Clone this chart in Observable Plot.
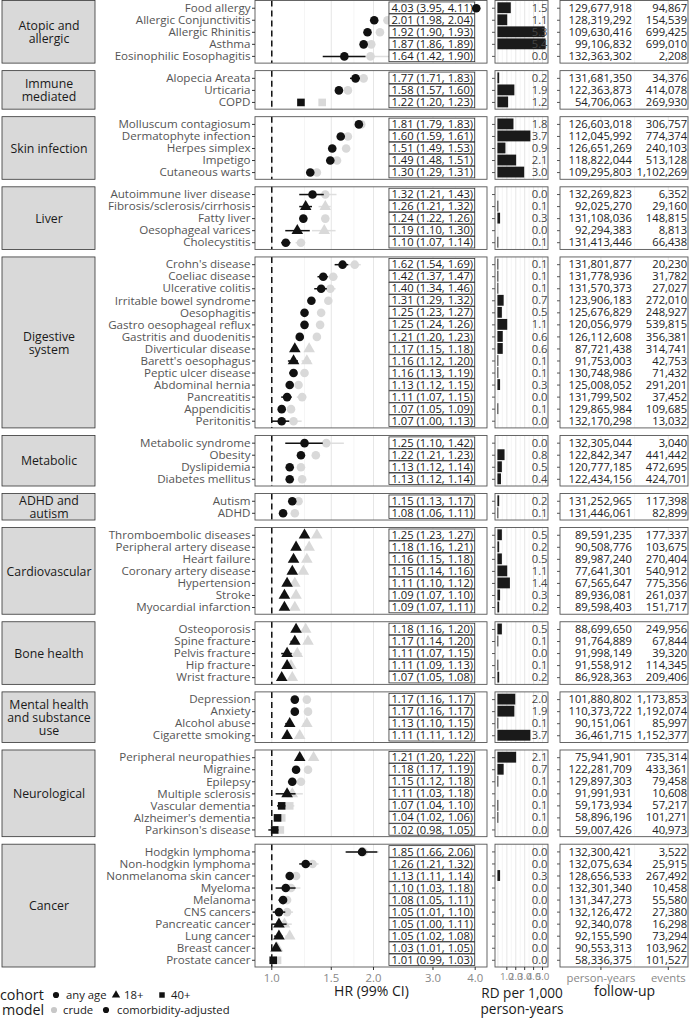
<!DOCTYPE html>
<html><head><meta charset="utf-8">
<script src="https://cdn.jsdelivr.net/npm/d3@7"></script>
<script src="https://cdn.jsdelivr.net/npm/@observablehq/plot@0.6"></script>
<style>
body{margin:0;background:#fff;font-family:"Open Sans",sans-serif;}
#wrap{position:relative;width:690px;height:1019px;overflow:hidden;background:#fff;}
#wrap svg{position:absolute;top:0;overflow:visible;}
.lg{position:absolute;white-space:nowrap;color:#1a1a1a;}
</style></head><body><div id="wrap"></div>
<script>
const groupNames = ["Atopic and\nallergic","Immune\nmediated","Skin infection","Liver","Digestive\nsystem","Metabolic","ADHD and\nautism","Cardiovascular","Bone health","Mental health\nand substance\nuse","Neurological","Cancer"];
const groupSizes = [5,3,5,5,14,4,2,7,5,4,7,10];
const conditions = ["Food allergy","Allergic Conjunctivitis","Allergic Rhinitis","Asthma","Eosinophilic Eosophagitis",
"Alopecia Areata","Urticaria","COPD",
"Molluscum contagiosum","Dermatophyte infection","Herpes simplex","Impetigo","Cutaneous warts",
"Autoimmune liver disease","Fibrosis/sclerosis/cirrhosis","Fatty liver","Oesophageal varices","Cholecystitis",
"Crohn's disease","Coeliac disease","Ulcerative colitis","Irritable bowel syndrome","Oesophagitis","Gastro oesophageal reflux","Gastritis and duodenitis","Diverticular disease","Barett's oesophagus","Peptic ulcer disease","Abdominal hernia","Pancreatitis","Appendicitis","Peritonitis",
"Metabolic syndrome","Obesity","Dyslipidemia","Diabetes mellitus",
"Autism","ADHD",
"Thromboembolic diseases","Peripheral artery disease","Heart failure","Coronary artery disease","Hypertension","Stroke","Myocardial infarction",
"Osteoporosis","Spine fracture","Pelvis fracture","Hip fracture","Wrist fracture",
"Depression","Anxiety","Alcohol abuse","Cigarette smoking",
"Peripheral neuropathies","Migraine","Epilepsy","Multiple sclerosis","Vascular dementia","Alzheimer's dementia","Parkinson's disease",
"Hodgkin lymphoma","Non-hodgkin lymphoma","Nonmelanoma skin cancer","Myeloma","Melanoma","CNS cancers","Pancreatic cancer","Lung cancer","Breast cancer","Prostate cancer"];
const cohort = ["any age","any age","any age","any age","any age",
"any age","any age","40+",
"any age","any age","any age","any age","any age",
"any age","18+","any age","18+","any age",
"any age","any age","any age","any age","any age","any age","any age","18+","18+","any age","any age","any age","any age","any age",
"any age","any age","any age","any age",
"any age","any age",
"18+","18+","18+","18+","18+","18+","18+",
"18+","18+","18+","18+","18+",
"any age","any age","18+","18+",
"18+","any age","any age","18+","40+","40+","40+",
"any age","any age","any age","any age","any age","any age","18+","18+","18+","40+"];
const hrAdj = [4.03,2.01,1.92,1.87,1.64, 1.77,1.58,1.22, 1.81,1.60,1.51,1.49,1.30, 1.32,1.26,1.24,1.19,1.10,
1.62,1.42,1.40,1.31,1.25,1.25,1.21,1.17,1.16,1.16,1.13,1.11,1.07,1.07, 1.25,1.22,1.13,1.13, 1.15,1.08,
1.25,1.18,1.16,1.15,1.11,1.09,1.09, 1.18,1.17,1.11,1.11,1.07, 1.17,1.17,1.13,1.11,
1.21,1.18,1.15,1.11,1.07,1.04,1.02, 1.85,1.26,1.13,1.10,1.08,1.05,1.05,1.05,1.03,1.01];
const hrLo = [3.95,1.98,1.90,1.86,1.42, 1.71,1.57,1.20, 1.79,1.59,1.49,1.48,1.29, 1.21,1.21,1.22,1.10,1.07,
1.54,1.37,1.34,1.29,1.23,1.24,1.20,1.15,1.12,1.13,1.12,1.07,1.05,1.00, 1.10,1.21,1.12,1.12, 1.13,1.06,
1.23,1.16,1.15,1.14,1.10,1.07,1.07, 1.16,1.14,1.07,1.09,1.05, 1.16,1.16,1.10,1.11,
1.20,1.17,1.12,1.03,1.04,1.02,0.98, 1.66,1.21,1.11,1.03,1.05,1.01,1.00,1.02,1.01,0.99];
const hrHi = [4.11,2.04,1.93,1.89,1.90, 1.83,1.60,1.23, 1.83,1.61,1.53,1.51,1.31, 1.43,1.32,1.26,1.30,1.14,
1.69,1.47,1.46,1.32,1.27,1.26,1.23,1.18,1.20,1.19,1.15,1.15,1.09,1.13, 1.42,1.23,1.14,1.14, 1.17,1.11,
1.27,1.21,1.18,1.16,1.12,1.10,1.11, 1.20,1.20,1.15,1.13,1.08, 1.17,1.17,1.15,1.12,
1.22,1.19,1.18,1.18,1.10,1.06,1.05, 2.06,1.32,1.14,1.18,1.11,1.10,1.11,1.08,1.05,1.03];
const hrCrude = [3.50,2.20,2.09,1.97,1.96, 1.87,1.68,1.41, 1.84,1.68,1.66,1.56,1.36, 1.44,1.44,1.44,1.43,1.22,
1.76,1.52,1.49,1.47,1.40,1.39,1.36,1.29,1.27,1.25,1.20,1.23,1.14,1.16, 1.45,1.35,1.22,1.23, 1.20,1.17,
1.36,1.29,1.27,1.24,1.17,1.18,1.17, 1.26,1.28,1.19,1.14,1.15, 1.27,1.28,1.27,1.21,
1.33,1.28,1.22,1.15,1.13,1.07,1.06, 1.87,1.32,1.18,1.14,1.11,1.11,1.09,1.13,1.04,1.04];
const crudeLo = [3.42,2.17,2.07,1.95,1.70, 1.81,1.66,1.39, 1.82,1.67,1.64,1.55,1.35, 1.33,1.38,1.42,1.32,1.18,
1.69,1.47,1.43,1.45,1.38,1.38,1.34,1.27,1.23,1.22,1.19,1.19,1.12,1.10, 1.28,1.34,1.21,1.22, 1.18,1.15,
1.34,1.26,1.26,1.23,1.16,1.16,1.15, 1.24,1.25,1.15,1.12,1.13, 1.26,1.27,1.24,1.20,
1.32,1.27,1.19,1.07,1.09,1.05,1.02, 1.68,1.26,1.16,1.06,1.08,1.06,1.03,1.10,1.02,1.02];
const crudeHi = [3.58,2.23,2.11,1.99,2.25, 1.93,1.70,1.43, 1.86,1.69,1.68,1.58,1.37, 1.56,1.50,1.46,1.55,1.26,
1.84,1.57,1.55,1.49,1.42,1.40,1.38,1.31,1.31,1.28,1.22,1.27,1.16,1.23, 1.64,1.36,1.23,1.24, 1.22,1.19,
1.38,1.32,1.29,1.25,1.18,1.19,1.19, 1.28,1.31,1.23,1.16,1.16, 1.28,1.29,1.30,1.22,
1.34,1.29,1.25,1.24,1.17,1.09,1.09, 2.08,1.38,1.20,1.22,1.14,1.16,1.15,1.16,1.06,1.06];
const rdPer1000 = [1.5,1.1,5.3,5.4,0.0, 0.2,1.9,1.2, 1.8,3.7,0.9,2.1,3.0, 0.0,0.1,0.3,0.0,0.1,
0.1,0.1,0.1,0.7,0.5,1.1,0.6,0.6,0.1,0.1,0.3,0.0,0.1,0.0, 0.0,0.8,0.5,0.4, 0.2,0.1,
0.5,0.2,0.5,1.1,1.4,0.3,0.2, 0.5,0.1,0.0,0.1,0.2, 2.0,1.9,0.1,3.7,
2.1,0.7,0.1,0.0,0.1,0.1,0.0, 0.0,0.0,0.3,0.0,0.0,0.0,0.0,0.0,0.0,0.0];
const personYears = [129677918,128319292,109630416,99106832,132363302, 131681350,122363873,54706063,
126603018,112045992,126651269,118822044,109295803, 132269823,92025270,131108036,92294383,131413446,
131801877,131778936,131570373,123906183,125676829,120056979,126112608,87721438,91753003,130748986,125008052,131799502,129865984,132170298,
132305044,122842347,120777185,122434156, 131252965,131446061,
89591235,90508776,89987240,77641301,67565647,89936081,89598403,
88699650,91764889,91998149,91558912,86928363, 101880802,110373722,90151061,36461715,
75941901,122281709,129897303,91991931,59173934,58896196,59007426,
132300421,132075634,128656533,132301340,131347273,132126472,92340078,92155590,90553313,58336375];
const events = [94867,154539,699425,699010,2208, 34376,414078,269930, 306757,774374,240103,513128,1102269,
6352,29160,148815,8813,66438,
20230,31782,27027,272010,248927,539815,356381,314741,42753,71432,291201,37452,109685,13032,
3040,441442,472695,424701, 117398,82899,
177337,103675,270404,540912,775356,261037,151717,
249956,67844,39320,114345,209406, 1173853,1192074,85997,1152377,
735314,433361,79458,10608,57217,101271,40973,
3522,25915,267492,10458,55580,27380,16298,73294,103962,101527];
const cohorts = ["any age","18+","40+"];
const hrTicks = [1,1.5,2,3,4];
const hrMinor = [1.25,1.75,2.5,3.5];
const rdTicks = [1,2,3,4,5];
const fuCols = ["person-years","events"];

// ---- build tables ----
const rows = [], panels = [];
let pos = 0, idx = 0;
groupNames.forEach((g, gi) => {
  const n = groupSizes[gi], start = pos;
  for (let k = 0; k < n; k++, idx++) rows.push({
    name: conditions[idx], pos: start + k, cohort: cohort[idx],
    hr: hrAdj[idx], lo: hrLo[idx], hi: hrHi[idx],
    crude: hrCrude[idx], cLo: crudeLo[idx], cHi: crudeHi[idx],
    rd: rdPer1000[idx], py: personYears[idx], ev: events[idx],
    label: `${hrAdj[idx].toFixed(2)} (${hrLo[idx].toFixed(2)}, ${hrHi[idx].toFixed(2)})`
  });
  panels.push({group: g, y1: start - 0.6, y2: start + n - 1 + 0.6});
  pos = start + n + 0.825;
});
const nameByPos = new Map(rows.map(d => [d.pos, d.name]));
const positions = rows.map(d => d.pos);
const yScale = {domain: [panels[0].y1, panels[panels.length-1].y2], reverse: true, axis: null};
const H = 1019, MT = 0.5, MB = 52;
const FONT = "'Open Sans', sans-serif";
const gridFor = (vals) => panels.flatMap(p => vals.map(x => ({x, y1: p.y1, y2: p.y2})));
const fmt = d3.format(",");
const wrap = document.getElementById("wrap");
function place(el, left) { el.style.left = left + "px"; wrap.appendChild(el); }
const baseStyle = {fontFamily: FONT, overflow: "visible", background: "transparent"};

// ---- strips ----
place(Plot.plot({
  width: 100, height: H, marginLeft: 2, marginRight: 5, marginTop: MT, marginBottom: MB,
  x: {domain: [0, 1], axis: null}, y: yScale, style: baseStyle,
  marks: [
    Plot.rect(panels, {x1: 0, x2: 1, y1: "y1", y2: "y2", fill: "#d9d9d9", stroke: "#333", strokeWidth: 0.8}),
    Plot.text(panels, {x: 0.5, y: d => (d.y1 + d.y2) / 2, text: "group", fontSize: 12.3, fill: "#1a1a1a", lineHeight: 1.05})
  ]
}), 0);

// ---- HR panel ----
const hrDom = [0.895, 4.35];
place(Plot.plot({
  width: 393, height: H, marginLeft: 158, marginRight: 3, marginTop: MT, marginBottom: MB,
  x: {type: "log", domain: hrDom, axis: null}, y: yScale, style: baseStyle,
  symbol: {domain: cohorts, range: ["circle", "triangle", "square"]},
  marks: [
    Plot.rect(panels, {x1: hrDom[0], x2: hrDom[1], y1: "y1", y2: "y2", fill: "white"}),
    Plot.ruleX(gridFor(hrMinor), {x: "x", y1: "y1", y2: "y2", stroke: "#f0f0f0", strokeWidth: 0.7}),
    Plot.ruleX(gridFor(hrTicks), {x: "x", y1: "y1", y2: "y2", stroke: "#e6e6e6", strokeWidth: 1}),
    Plot.ruleX(panels, {x: 1, y1: "y1", y2: "y2", stroke: "#111", strokeWidth: 1.5, strokeDasharray: "6,4"}),
    Plot.ruleY(rows, {y: "pos", x1: "cLo", x2: "cHi", stroke: "#dedede", strokeWidth: 1.5}),
    Plot.dot(rows, {x: "crude", y: "pos", symbol: "cohort", fill: "#d9d9d9", r: 4.3}),
    Plot.rect(rows, {x1: 2.23, x2: 4.0, y1: d => d.pos - 0.48, y2: d => d.pos + 0.48, fill: "white", stroke: "#333", strokeWidth: 0.8}),
    Plot.text(rows, {x: 2.985, y: "pos", text: "label", fill: "#1a1a1a", fontSize: 11.2}),
    Plot.ruleY(rows, {y: "pos", x1: "lo", x2: "hi", stroke: "#111", strokeWidth: 1.5}),
    Plot.dot(rows, {x: "hr", y: "pos", symbol: "cohort", fill: "#111", r: 4.3}),
    Plot.rect(panels, {x1: hrDom[0], x2: hrDom[1], y1: "y1", y2: "y2", fill: "none", stroke: "#555", strokeWidth: 0.9}),
    Plot.axisY({ticks: positions, tickFormat: d => nameByPos.get(d), tickSize: 3, tickPadding: 2, fontSize: 11.6, stroke: "#333", fill: "#555"}),
    Plot.axisX({ticks: hrTicks, tickFormat: d3.format(".1f"), tickSize: 3, tickPadding: 3, fontSize: 11.3, stroke: "#333", fill: "#888", label: null}),
    Plot.text(["HR (99% CI)"], {frameAnchor: "bottom", dy: 28, text: d => d, fontSize: 14, fill: "#1a1a1a"})
  ]
}), 97);

// ---- RD panel ----
const rdDom = [-0.27, 5.67];
const rdMinor = [0.5, 1.5, 2.5, 3.5, 4.5, 5.5], rdMajor = [0, 1, 2, 3, 4, 5];
place(Plot.plot({
  width: 63, height: H, marginLeft: 5, marginRight: 5, marginTop: MT, marginBottom: MB,
  x: {domain: rdDom, axis: null}, y: yScale, style: baseStyle,
  marks: [
    Plot.rect(panels, {x1: rdDom[0], x2: rdDom[1], y1: "y1", y2: "y2", fill: "white"}),
    Plot.ruleX(gridFor(rdMinor), {x: "x", y1: "y1", y2: "y2", stroke: "#efefef", strokeWidth: 0.7}),
    Plot.ruleX(gridFor(rdMajor), {x: "x", y1: "y1", y2: "y2", stroke: "#e3e3e3", strokeWidth: 0.9}),
    Plot.rect(rows, {x1: 0, x2: "rd", y1: d => d.pos - 0.45, y2: d => d.pos + 0.45, fill: "#1a1a1a"}),
    Plot.text(rows, {y: "pos", text: d => d.rd.toFixed(1), frameAnchor: "right", textAnchor: "end", dx: -1, fill: "#444", fontSize: 11.2}),
    Plot.rect(panels, {x1: rdDom[0], x2: rdDom[1], y1: "y1", y2: "y2", fill: "none", stroke: "#555", strokeWidth: 0.9}),
    Plot.axisY({ticks: positions, tickSize: 3, stroke: "#555", fill: "none"}),
    Plot.axisX({ticks: rdTicks, tickSize: 3, tickPadding: 3, fontSize: 9.8, stroke: "#333", fill: "#888", label: null}),
    Plot.text(["RD per 1,000\nperson-years"], {frameAnchor: "bottom", lineAnchor: "top", dy: 19, text: d => d, fontSize: 13.6, lineHeight: 1.2, fill: "#1a1a1a"})
  ]
}), 490);

// ---- follow-up panel ----
const fuDom = [0.4, 2.3];
place(Plot.plot({
  width: 137, height: H, marginLeft: 7, marginRight: 2, marginTop: MT, marginBottom: MB,
  x: {domain: fuDom, axis: null}, y: yScale, style: baseStyle,
  marks: [
    Plot.rect(panels, {x1: fuDom[0], x2: fuDom[1], y1: "y1", y2: "y2", fill: "white"}),
    Plot.ruleX(gridFor([1.5]), {x: "x", y1: "y1", y2: "y2", stroke: "#efefef", strokeWidth: 0.7}),
    Plot.ruleX(gridFor([1, 2]), {x: "x", y1: "y1", y2: "y2", stroke: "#e6e6e6", strokeWidth: 0.9}),
    Plot.text(rows, {x: 1.46, y: "pos", text: d => fmt(d.py), textAnchor: "end", fill: "#222", fontSize: 11.2}),
    Plot.text(rows, {x: 2.28, y: "pos", text: d => fmt(d.ev), textAnchor: "end", fill: "#222", fontSize: 11.2}),
    Plot.rect(panels, {x1: fuDom[0], x2: fuDom[1], y1: "y1", y2: "y2", fill: "none", stroke: "#555", strokeWidth: 0.9}),
    Plot.axisY({ticks: positions, tickSize: 3, stroke: "#555", fill: "none"}),
    Plot.axisX({ticks: [1, 2], tickFormat: d => fuCols[d - 1], tickSize: 3, tickPadding: 3, fontSize: 11.3, stroke: "#333", fill: "#888", label: null}),
    Plot.text(["follow-up"], {frameAnchor: "bottom", dy: 28, text: d => d, fontSize: 14, fill: "#1a1a1a"})
  ]
}), 553);

// ---- legend ----
function lgText(txt, left, cy, size) {
  const d = document.createElement("div");
  d.className = "lg"; d.textContent = txt;
  d.style.left = left + "px"; d.style.top = (cy - 10) + "px";
  d.style.fontSize = size + "px"; d.style.lineHeight = "20px";
  wrap.appendChild(d);
}
function lgSym(type, cx, cy, color) {
  const ns = "http://www.w3.org/2000/svg";
  const s = document.createElementNS(ns, "svg");
  s.setAttribute("width", 12); s.setAttribute("height", 12);
  s.style.left = (cx - 6) + "px"; s.style.top = (cy - 6) + "px";
  const p = document.createElementNS(ns, "path");
  p.setAttribute("transform", "translate(6,6)");
  p.setAttribute("d", d3.symbol(type === "circle" ? d3.symbolCircle : type === "triangle" ? d3.symbolTriangle : d3.symbolSquare, 30)());
  p.setAttribute("fill", color);
  s.appendChild(p); wrap.appendChild(s);
}
lgText("cohort", 0, 995, 14.3);
lgSym("circle", 56, 995, "#111"); lgText(cohorts[0], 66, 995, 11.3);
lgSym("triangle", 116, 995, "#111"); lgText(cohorts[1], 124, 995, 11.3);
lgSym("square", 161.5, 995, "#111"); lgText(cohorts[2], 171, 995, 11.3);
lgText("model", 2, 1010, 14.3);
lgSym("circle", 54, 1010, "#c8c8c8"); lgText("crude", 63, 1010, 11.3);
lgSym("circle", 106, 1010, "#111"); lgText("comorbidity-adjusted", 117, 1010, 11.3);
</script></body></html>
